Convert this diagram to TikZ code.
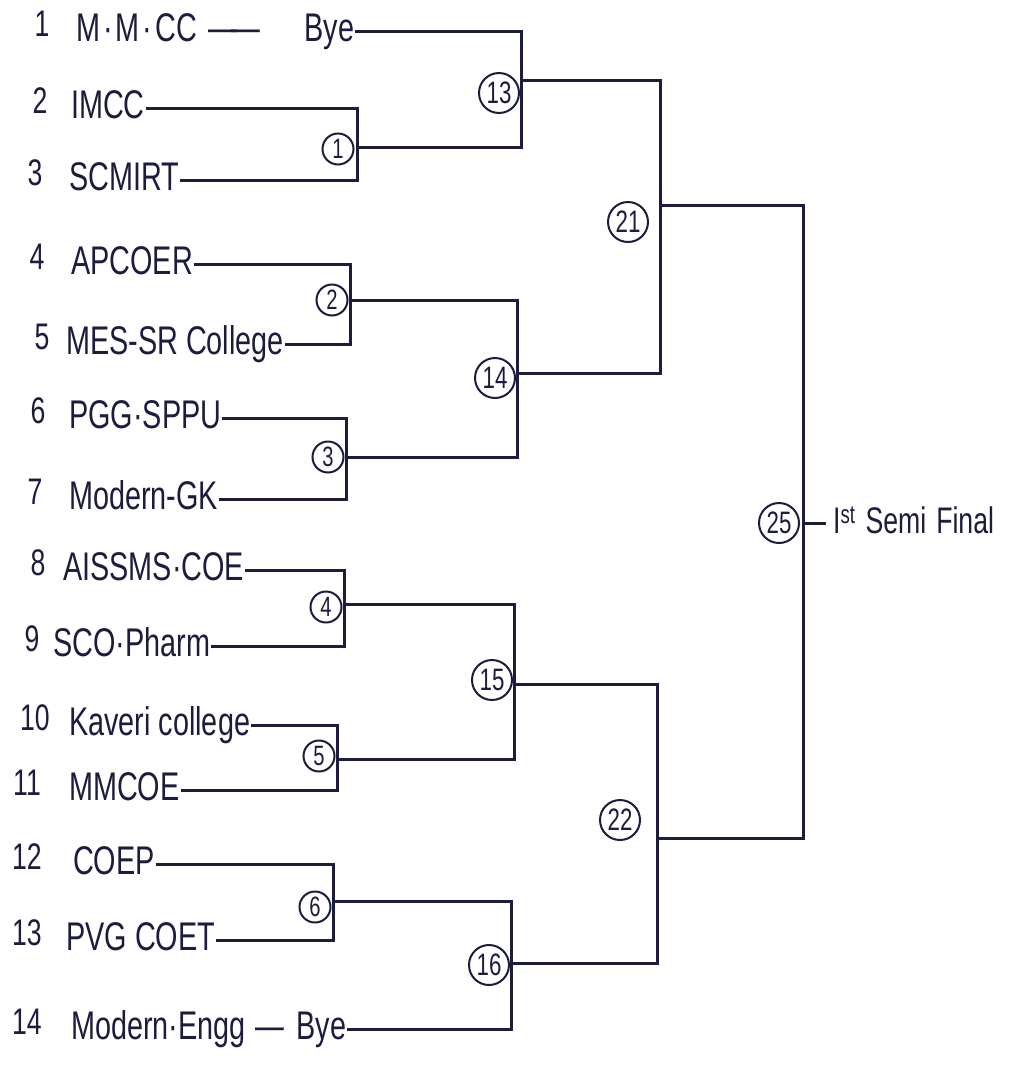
\documentclass[tikz,border=0pt]{standalone}
\usepackage{fontspec}
\setmainfont{Liberation Sans}
\newfontfamily\hand[FakeStretch=0.72]{Liberation Sans}
\usetikzlibrary{positioning}

\definecolor{ink}{RGB}{28,28,62}

\tikzset{
  team/.style={anchor=west, inner sep=1pt, text height=29pt, text depth=9pt,
    font=\hand\fontsize{40}{46}\selectfont, text=ink},
  seed/.style={inner sep=0pt, text height=27pt, text depth=7pt,
    font=\hand\fontsize{37}{42}\selectfont, text=ink},
  heat/.style={draw=ink, circle, line width=2pt, minimum size=31pt, inner sep=0pt,
    font=\hand\fontsize{28}{30}\selectfont, text=ink},
  match/.style={heat, minimum size=40pt, font=\hand\fontsize{31}{34}\selectfont},
  link/.style={draw=ink, line width=3pt},
}

\begin{document}
\begin{tikzpicture}[x=1pt, y=-1pt]
    \useasboundingbox[fill=white] (0,0) rectangle (1022,1066);


    % teams and their seeds
    \node[team] (team-1) at (75,31) {M\hspace{3pt}·\hspace{3pt}M\hspace{3pt}·\hspace{3pt}CC\hspace{12pt}—\kern-6pt—\hspace{44pt}Bye};
    \node[team] (team-2) at (70,108) {IMCC};
    \node[team] (team-3) at (68,180) {SCMIRT};
    \node[team] (team-4) at (70,264) {APCOER};
    \node[team] (team-5) at (65,344) {MES-SR College};
    \node[team] (team-6) at (68,418) {PGG·SPPU};
    \node[team] (team-7) at (68,499) {Modern-GK};
    \node[team] (team-8) at (62,570) {AISSMS·COE};
    \node[team] (team-9) at (52,646) {SCO·Pharm};
    \node[team] (team-10) at (68,725) {Kaveri college};
    \node[team] (team-11) at (68,790) {MMCOE};
    \node[team] (team-12) at (72,864) {COEP};
    \node[team] (team-13) at (65,940) {PVG COET};
    \node[team] (team-14) at (70,1029) {Modern·Engg\hspace{10pt}—\hspace{12pt}Bye};

    \node[seed] (seed-1) at (42,26) {1};
    \node[seed] (seed-2) at (40,103) {2};
    \node[seed] (seed-3) at (35,175) {3};
    \node[seed] (seed-4) at (37,259) {4};
    \node[seed] (seed-5) at (42,339) {5};
    \node[seed] (seed-6) at (38,413) {6};
    \node[seed] (seed-7) at (35,494) {7};
    \node[seed] (seed-8) at (38,565) {8};
    \node[seed] (seed-9) at (32,641) {9};
    \node[seed] (seed-10) at (35,720) {10};
    \node[seed] (seed-11) at (27,785) {11};
    \node[seed] (seed-12) at (27,859) {12};
    \node[seed] (seed-13) at (27,935) {13};
    \node[seed] (seed-14) at (27,1024) {14};


    % junctions on the bars
    \coordinate (j-1) at (357,147);
    \coordinate (j-2) at (350,300);
    \coordinate (j-3) at (346,457);
    \coordinate (j-4) at (344,604);
    \coordinate (j-5) at (337,759);
    \coordinate (j-6) at (333,901);
    \coordinate (j-13) at (521,80);
    \coordinate (j-14) at (517,373);
    \coordinate (j-15) at (514,684);
    \coordinate (j-16) at (511,963);
    \coordinate (j-21) at (660,205);
    \coordinate (j-22) at (657,838);
    \coordinate (j-25) at (803,523);


    % first round
    \draw[link] (team-2.east) -- (team-2.east -| j-1) -- (team-3.east -| j-1) -- (team-3.east);
    \draw[link] (team-4.east) -- (team-4.east -| j-2) -- (team-5.east -| j-2) -- (team-5.east);
    \draw[link] (team-6.east) -- (team-6.east -| j-3) -- (team-7.east -| j-3) -- (team-7.east);
    \draw[link] (team-8.east) -- (team-8.east -| j-4) -- (team-9.east -| j-4) -- (team-9.east);
    \draw[link] (team-10.east) -- (team-10.east -| j-5) -- (team-11.east -| j-5) -- (team-11.east);
    \draw[link] (team-12.east) -- (team-12.east -| j-6) -- (team-13.east -| j-6) -- (team-13.east);
    \node[heat] (match-1) at (338,149) {1};
    \node[heat] (match-2) at (332,300) {2};
    \node[heat] (match-3) at (328,457) {3};
    \node[heat] (match-4) at (326,607) {4};
    \node[heat] (match-5) at (319,756) {5};
    \node[heat] (match-6) at (315,907) {6};


    % second round
    \draw[link] (team-1.east) -- (team-1.east -| j-13) -- (j-1 -| j-13) -- (j-1);
    \draw[link] (j-2) -- (j-2 -| j-14) -- (j-3 -| j-14) -- (j-3);
    \draw[link] (j-4) -- (j-4 -| j-15) -- (j-5 -| j-15) -- (j-5);
    \draw[link] (j-6) -- (j-6 -| j-16) -- (team-14.east -| j-16) -- (team-14.east);
    \node[match] (match-13) at (499,93) {13};
    \node[match] (match-14) at (495,378) {14};
    \node[match] (match-15) at (492,680) {15};
    \node[match] (match-16) at (489,965) {16};


    % third round and semi final
    \draw[link] (j-13) -- (j-13 -| j-21) -- (j-14 -| j-21) -- (j-14);
    \draw[link] (j-15) -- (j-15 -| j-22) -- (j-16 -| j-22) -- (j-16);
    \node[match] (match-21) at (628,222) {21};
    \node[match] (match-22) at (620,820) {22};

    \draw[link] (j-21) -- (j-21 -| j-25) -- (j-22 -| j-25) -- (j-22);
    \node[match] (match-25) at (779,523) {25};
    \node[team, inner sep=7pt, font=\hand\fontsize{37}{42}\selectfont] (semi) at (826,523) {I\textsuperscript{st}\hspace{10pt}Semi\hspace{10pt}Final};
    \draw[link] (j-25) -- (semi.west);

\end{tikzpicture}
\end{document}
